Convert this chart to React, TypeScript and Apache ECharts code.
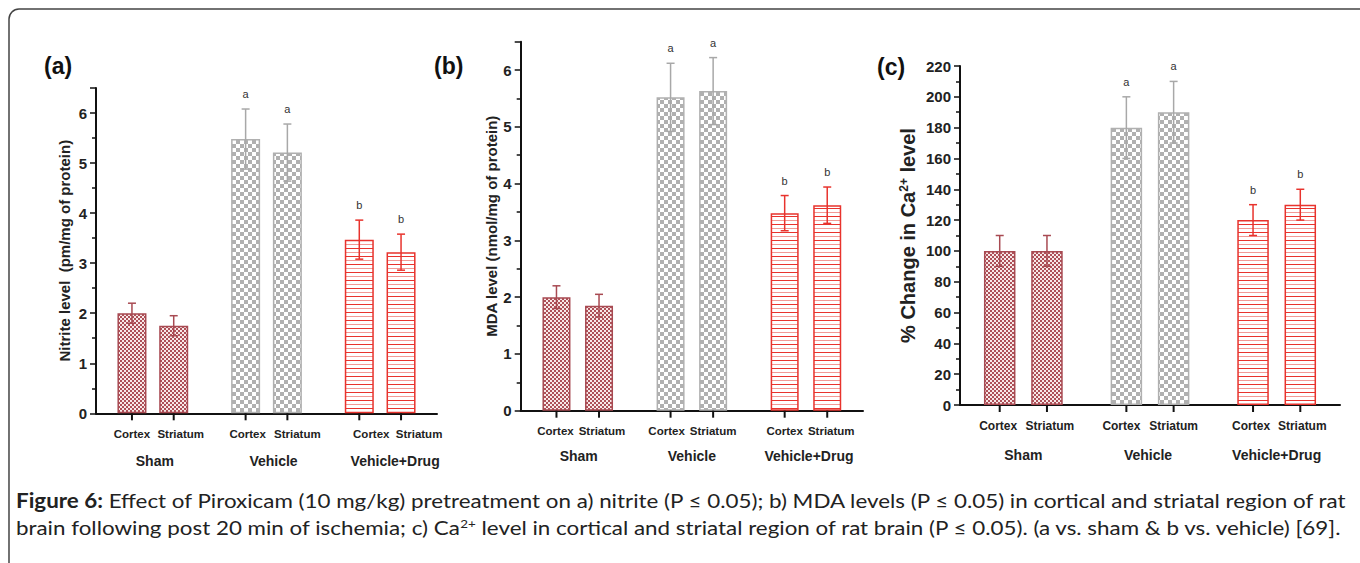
import React, { useEffect, useRef } from "react";
import * as echarts from "echarts";

const groups = ["Sham", "Vehicle", "Vehicle+Drug"];
const regions = ["Cortex", "Striatum"];
const sigLetters = ["", "a", "b"];

const nitriteCortex = [2.0, 5.48, 3.47];
const nitriteCortexSem = [0.2, 0.6, 0.39];
const nitriteStriatum = [1.75, 5.21, 3.22];
const nitriteStriatumSem = [0.2, 0.57, 0.36];

const mdaCortex = [2.0, 5.52, 3.48];
const mdaCortexSem = [0.2, 0.6, 0.31];
const mdaStriatum = [1.85, 5.63, 3.62];
const mdaStriatumSem = [0.2, 0.59, 0.32];

const caCortex = [100, 180, 120];
const caCortexSem = [10, 20, 10];
const caStriatum = [100, 190, 130];
const caStriatumSem = [10, 20, 10];

const captionLine1 =
  "{b|Figure 6:} Effect of Piroxicam (10 mg/kg) pretreatment on a) nitrite (P ≤ 0.05); b) MDA levels (P ≤ 0.05) in cortical and striatal region of rat";
const captionLine2 =
  "brain following post 20 min of ischemia; c) Ca{s|2+} level in cortical and striatal region of rat brain (P ≤ 0.05). (a vs. sham & b vs. vehicle) [69].";

const FONT = "'Liberation Sans', Arial, sans-serif";
const CAP_FONT = "Lato, 'Open Sans', sans-serif";

const borderColors = ["#a84a52", "#b0b0b0", "#e8332d"];
const errColors = ["#a84a52", "#a8a8a8", "#e8332d"];

function makeChecker(cell: number, c1: string, c2: string) {
  const cv = document.createElement("canvas");
  cv.width = cell * 2;
  cv.height = cell * 2;
  const ctx = cv.getContext("2d")!;
  ctx.fillStyle = c2;
  ctx.fillRect(0, 0, cell * 2, cell * 2);
  ctx.fillStyle = c1;
  ctx.fillRect(0, 0, cell, cell);
  ctx.fillRect(cell, cell, cell, cell);
  return cv;
}

function makeLines() {
  const cv = document.createElement("canvas");
  cv.width = 4;
  cv.height = 8;
  const ctx = cv.getContext("2d")!;
  ctx.fillStyle = "#ffffff";
  ctx.fillRect(0, 0, 4, 8);
  ctx.fillStyle = "#e8332d";
  ctx.fillRect(0, 0, 4, 1);
  ctx.fillStyle = "#f29a96";
  ctx.fillRect(0, 4, 4, 1);
  return cv;
}

type PanelCfg = {
  idx: number;
  grid: { left: number; top: number; width: number; height: number };
  max: number;
  interval: number;
  name: string;
  nameGap: number;
  nameSize: number;
  cortex: number[];
  cortexSem: number[];
  striatum: number[];
  striatumSem: number[];
  barWidth: number;
  gap: number;
  regionDist: number;
  regionSize: number;
  cortexShift: number[];
  striatumShift: number[];
  groupShift: number[];
  groupMargin: number;
};

export default function App() {
  const ref = useRef<HTMLDivElement>(null);

  useEffect(() => {
    document.body.style.margin = "0";
    const chart = echarts.init(ref.current!, null, { renderer: "svg" });

    const fills = [
      { image: makeChecker(2, "#ad5058", "#f8e8e8"), repeat: "repeat" },
      { image: makeChecker(4, "#b0b0b0", "#ffffff"), repeat: "repeat" },
      { image: makeLines(), repeat: "repeat" },
    ];

    const panels: PanelCfg[] = [
      {
        idx: 0,
        grid: { left: 96, top: 88, width: 341, height: 325.3 },
        max: 6.5,
        interval: 1,
        name: "Nitrite level  (pm/mg of protein)",
        nameGap: 24,
        nameSize: 15,
        cortex: nitriteCortex,
        cortexSem: nitriteCortexSem,
        striatum: nitriteStriatum,
        striatumSem: nitriteStriatumSem,
        barWidth: 29,
        gap: 0.44,
        regionDist: 15,
        regionSize: 11.5,
        cortexShift: [0, 2, 12],
        striatumShift: [7, 10, 18],
        groupShift: [2, 7, 15],
        groupMargin: 41,
      },
      {
        idx: 1,
        grid: { left: 520.7, top: 41.7, width: 342.3, height: 369 },
        max: 6.5,
        interval: 1,
        name: "MDA level (nmol/mg of protein)",
        nameGap: 21,
        nameSize: 15,
        cortex: mdaCortex,
        cortexSem: mdaCortexSem,
        striatum: mdaStriatum,
        striatumSem: mdaStriatumSem,
        barWidth: 28,
        gap: 0.52,
        regionDist: 14,
        regionSize: 11.5,
        cortexShift: [-1, -4, 0],
        striatumShift: [3, 0, 4],
        groupShift: [1, 0, 3],
        groupMargin: 38,
      },
      {
        idx: 2,
        grid: { left: 960, top: 66, width: 380, height: 339 },
        max: 220,
        interval: 20,
        name: "% Change in Ca{s|2+} level",
        nameGap: 42,
        nameSize: 20,
        cortex: caCortex,
        cortexSem: caCortexSem,
        striatum: caStriatum,
        striatumSem: caStriatumSem,
        barWidth: 31.5,
        gap: 0.5,
        regionDist: 15,
        regionSize: 12,
        cortexShift: [-1.5, -5, -2],
        striatumShift: [3, 0, 2],
        groupShift: [0, -2, 0],
        groupMargin: 43,
      },
    ];

    const grid: any[] = [];
    const xAxis: any[] = [];
    const yAxis: any[] = [];
    const series: any[] = [];

    panels.forEach((p) => {
      grid.push({ ...p.grid });
      const richG: any = {};
      p.groupShift.forEach((sh, k) => {
        richG["g" + k] = {
          fontFamily: FONT,
          fontWeight: "bold",
          fontSize: 14,
          color: "#222",
          padding: sh >= 0 ? [0, 0, 0, sh * 2] : [0, -sh * 2, 0, 0],
        };
      });
      xAxis.push({
        type: "category",
        gridIndex: p.idx,
        data: groups,
        axisLine: { lineStyle: { color: "#111", width: 2 } },
        axisTick: { show: false },
        axisLabel: {
          interval: 0,
          margin: p.groupMargin,
          fontFamily: FONT,
          fontWeight: "bold",
          fontSize: 14,
          color: "#222",
          formatter: (v: string) => `{g${groups.indexOf(v)}|${v}}`,
          rich: richG,
        },
      });
      yAxis.push({
        type: "value",
        gridIndex: p.idx,
        min: 0,
        max: p.max,
        interval: p.interval,
        name: p.name,
        nameLocation: "middle",
        nameGap: p.nameGap,
        nameTextStyle: {
          fontFamily: FONT,
          fontWeight: "bold",
          fontSize: p.nameSize,
          color: "#222",
          rich: {
            s: {
              fontFamily: FONT,
              fontWeight: "bold",
              fontSize: 12,
              color: "#222",
              verticalAlign: "top",
            },
          },
        },
        axisLine: { show: true, lineStyle: { color: "#111", width: 2 } },
        axisTick: { show: true, length: 6, lineStyle: { width: 1.5, color: "#111" } },
        minorTick: { show: true, splitNumber: 2, length: 4, lineStyle: { width: 1.5, color: "#111" } },
        splitLine: { show: false },
        minorSplitLine: { show: false },
        axisLabel: {
          margin: 9,
          fontFamily: FONT,
          fontWeight: "bold",
          fontSize: 15,
          color: "#222",
          formatter: (v: number) => (Number.isInteger(v / p.interval) ? String(v) : ""),
        },
      });

      const offset = (p.barWidth * (1 + p.gap)) / 2;
      const sets = [
        { name: regions[0], vals: p.cortex, sem: p.cortexSem, sign: -1, shift: p.cortexShift },
        { name: regions[1], vals: p.striatum, sem: p.striatumSem, sign: 1, shift: p.striatumShift },
      ];
      sets.forEach((s) => {
        series.push({
          type: "bar",
          name: s.name,
          xAxisIndex: p.idx,
          yAxisIndex: p.idx,
          barWidth: p.barWidth,
          barGap: p.gap * 100 + "%",
          data: s.vals.map((v, i) => ({
            value: v,
            itemStyle: { color: fills[i], borderColor: borderColors[i], borderWidth: 1.5 },
            label: { offset: [s.shift[i], 0] },
          })),
          label: {
            show: true,
            position: "bottom",
            distance: p.regionDist,
            formatter: "{a}",
            fontFamily: FONT,
            fontWeight: "bold",
            fontSize: p.regionSize,
            color: "#222",
          },
          z: 2,
        });
      });
      sets.forEach((s) => {
        series.push({
          type: "custom",
          xAxisIndex: p.idx,
          yAxisIndex: p.idx,
          z: 5,
          clip: false,
          data: s.vals.map((v, i) => [i, v, s.sem[i]]),
          renderItem: (params: any, api: any) => {
            const i = api.value(0);
            const v = api.value(1);
            const e = api.value(2);
            const base = api.coord([i, 0]);
            const x = base[0] + s.sign * offset;
            const y0 = base[1];
            const yTop = api.coord([i, v + e])[1];
            const yBot = api.coord([i, v - e])[1];
            const col = errColors[i];
            const cap = 4;
            const children: any[] = [
              { type: "line", shape: { x1: x, y1: yTop, x2: x, y2: yBot }, style: { stroke: col, lineWidth: 1.5 } },
              { type: "line", shape: { x1: x - cap, y1: yTop, x2: x + cap, y2: yTop }, style: { stroke: col, lineWidth: 1.5 } },
              { type: "line", shape: { x1: x - cap, y1: yBot, x2: x + cap, y2: yBot }, style: { stroke: col, lineWidth: 1.5 } },
              { type: "line", shape: { x1: x, y1: y0, x2: x, y2: y0 + 7 }, style: { stroke: "#111", lineWidth: 2 } },
            ];
            if (sigLetters[i]) {
              children.push({
                type: "text",
                style: {
                  text: sigLetters[i],
                  x: x,
                  y: yTop - 15,
                  textAlign: "center",
                  textVerticalAlign: "middle",
                  fontFamily: FONT,
                  fontSize: 11,
                  fill: "#333",
                },
              });
            }
            return { type: "group", children };
          },
        });
      });
    });

    const option: any = {
      animation: false,
      backgroundColor: "#ffffff",
      grid,
      xAxis,
      yAxis,
      series,
      graphic: [
        {
          type: "rect",
          silent: true,
          shape: { x: 9, y: 9, width: 1420, height: 640, r: 10 },
          style: { fill: "none", stroke: "#444", lineWidth: 1.5 },
        },
        {
          type: "text",
          x: 44,
          y: 66,
          style: { text: "(a)", fontFamily: FONT, fontWeight: "bold", fontSize: 23, fill: "#111", textVerticalAlign: "middle" },
        },
        {
          type: "text",
          x: 434,
          y: 66,
          style: { text: "(b)", fontFamily: FONT, fontWeight: "bold", fontSize: 23, fill: "#111", textVerticalAlign: "middle" },
        },
        {
          type: "text",
          x: 877,
          y: 67,
          style: { text: "(c)", fontFamily: FONT, fontWeight: "bold", fontSize: 23, fill: "#111", textVerticalAlign: "middle" },
        },
        {
          type: "text",
          x: 16,
          y: 500,
          scaleX: 1.119,
          style: {
            text: captionLine1,
            fontFamily: CAP_FONT,
            fontSize: 20,
            fill: "#222",
            textVerticalAlign: "middle",
            rich: {
              b: { fontFamily: CAP_FONT, fontSize: 20, fontWeight: "bold", fill: "#222" },
            },
          },
        },
        {
          type: "text",
          x: 16,
          y: 527,
          scaleX: 1.119,
          style: {
            text: captionLine2,
            fontFamily: CAP_FONT,
            fontSize: 20,
            fill: "#222",
            textVerticalAlign: "middle",
            rich: {
              s: { fontFamily: CAP_FONT, fontSize: 12, fill: "#222", verticalAlign: "top" },
            },
          },
        },
      ],
    };

    chart.setOption(option);
    return () => chart.dispose();
  }, []);

  return <div ref={ref} style={{ width: 1360, height: 563 }} />;
}
